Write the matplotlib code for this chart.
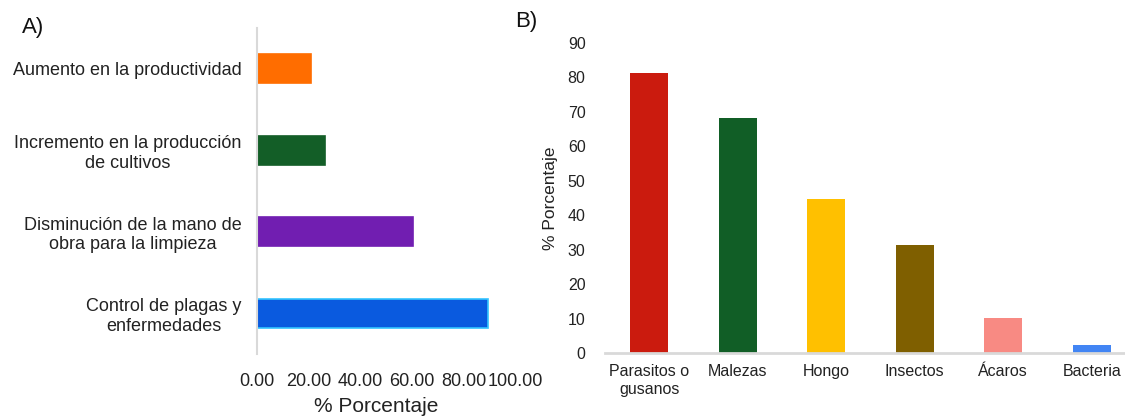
import matplotlib
matplotlib.use("Agg")
import matplotlib.pyplot as plt
import numpy as np

plt.rcParams['font.family'] = ['Liberation Sans', 'DejaVu Sans']

# Panel A: perceived benefits
benefits = [
    "Aumento en la productividad",
    "Incremento en la producción\nde cultivos",
    "Disminución de la mano de\nobra para la limpieza",
    "Control de plagas y\nenfermedades",
]
benefit_values = [21.0, 26.3, 60.5, 89.4]
benefit_colors = ["#FF6D00", "#135E27", "#711EB1", "#0A5ADF"]
benefit_ticks = [0, 20, 40, 60, 80, 100]

# Panel B: pest types
pests = ["Parasitos o\ngusanos", "Malezas", "Hongo", "Insectos", "Ácaros", "Bacteria"]
pest_values = [81.4, 68.1, 44.8, 31.4, 10.3, 2.2]
pest_colors = ["#CB1B0E", "#115E26", "#FFC000", "#7F5F00", "#F88A83", "#4285F4"]
pest_ticks = [0, 10, 20, 30, 40, 50, 60, 70, 80, 90]

W, H = 1125, 419
fig = plt.figure(figsize=(W / 100, H / 100), dpi=100)

def box(x0, y0, x1, y1):
    return [x0 / W, 1 - y1 / H, (x1 - x0) / W, (y1 - y0) / H]

grid_grey = "#d9d9d9"

# ---- Panel A ----
axA = fig.add_axes(box(257, 28, 515, 354))
ypos = np.arange(len(benefits))
for i, (v, c) in enumerate(zip(benefit_values, benefit_colors)):
    ec = "#33C4FF" if i == 3 else c
    axA.barh(ypos[i], v, height=0.36, color=c, edgecolor=ec, linewidth=1.2)
axA.set_ylim(-0.5, len(benefits) - 0.5)
axA.invert_yaxis()
axA.set_xlim(0, 100)
axA.set_xticks(benefit_ticks)
axA.set_xticklabels([f"{t:.2f}" for t in benefit_ticks])
axA.set_yticks(ypos)
axA.set_yticklabels(benefits, multialignment="center")
for s in ["top", "right", "bottom"]:
    axA.spines[s].set_visible(False)
axA.spines["left"].set_color(grid_grey)
axA.spines["left"].set_linewidth(1.5)
axA.tick_params(axis="x", length=0, pad=14, labelsize=13, colors="#222222")
axA.tick_params(axis="y", length=0, pad=11, labelsize=13, colors="#222222")
axA.set_xlabel("% Porcentaje", fontsize=15, color="#222222", va="center")
# place the axis title in figure pixels below the tick labels
axA.xaxis.set_label_coords(376 / W, 1 - 406 / H, transform=fig.transFigure)

# ---- Panel B ----
axB = fig.add_axes(box(605, 43, 1136, 353))
xpos = np.arange(len(pests))
axB.bar(xpos, pest_values, width=0.43, color=pest_colors)
axB.set_xlim(-0.5, len(pests) - 0.5)
axB.set_ylim(0, 90)
axB.set_yticks(pest_ticks)
axB.set_xticks(xpos)
axB.set_xticklabels(pests, multialignment="center")
for s in ["top", "right", "left"]:
    axB.spines[s].set_visible(False)
axB.spines["bottom"].set_color(grid_grey)
axB.spines["bottom"].set_linewidth(2)
axB.tick_params(axis="x", length=0, pad=8, labelsize=11.5, colors="#222222")
axB.tick_params(axis="y", length=0, pad=14, labelsize=11.5, colors="#222222")
axB.set_ylabel("% Porcentaje", fontsize=12.5, labelpad=7, color="#222222")

fig.text(22 / W, 1 - 27 / H, "A)", fontsize=16, va="center", ha="left", color="#111111")
fig.text(515 / W, 1 - 22 / H, "B)", fontsize=16, va="center", ha="left", color="#111111")

fig.savefig("out.png", dpi=100, facecolor="white")
